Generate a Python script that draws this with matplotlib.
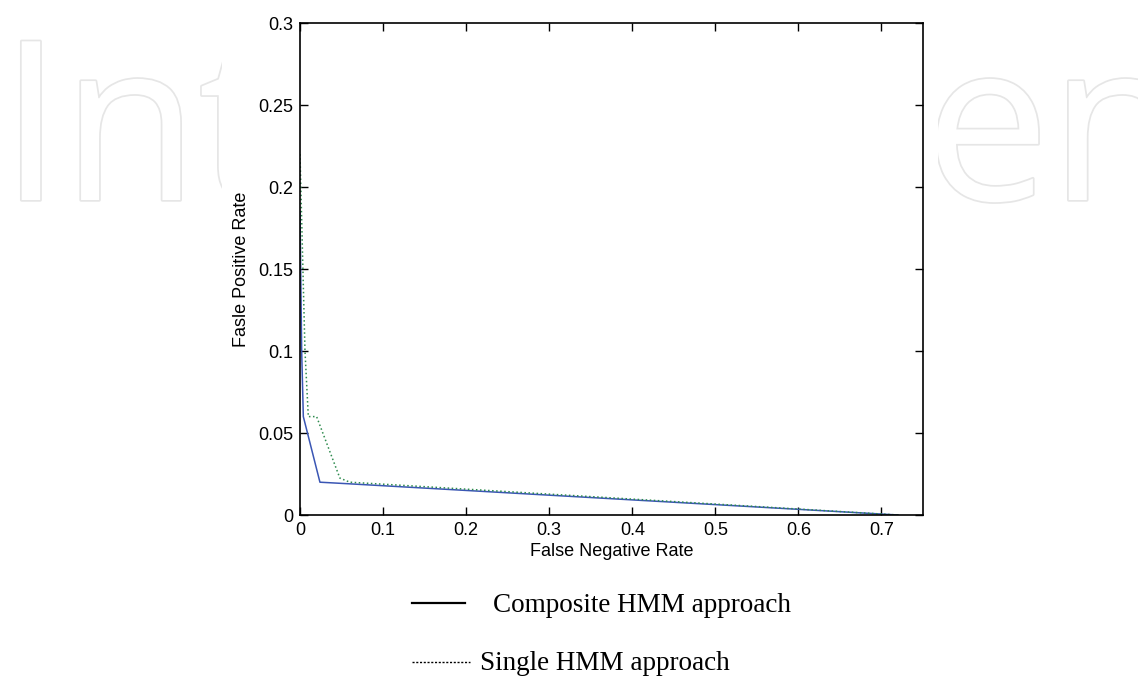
import matplotlib
matplotlib.use("Agg")
import matplotlib.pyplot as plt
import matplotlib.patheffects as pe
from matplotlib.lines import Line2D
from matplotlib.patches import Rectangle

# ROC-like curves
fnr_composite = [0.0, 0.002, 0.004, 0.024, 0.06, 0.72]
fpr_composite = [0.185, 0.10, 0.06, 0.02, 0.019, 0.0]
fnr_single = [0.0, 0.002, 0.006, 0.01, 0.02, 0.048, 0.06, 0.72]
fpr_single = [0.22, 0.18, 0.10, 0.06, 0.06, 0.0225, 0.02, 0.0]

xticks = [0, 0.1, 0.2, 0.3, 0.4, 0.5, 0.6, 0.7]
yticks = [0, 0.05, 0.1, 0.15, 0.2, 0.25, 0.3]
xtick_labels = ["0", "0.1", "0.2", "0.3", "0.4", "0.5", "0.6", "0.7"]
ytick_labels = ["0", "0.05", "0.1", "0.15", "0.2", "0.25", "0.3"]

W, H = 1138, 678
fig = plt.figure(figsize=(W / 100, H / 100), dpi=100)

# faint watermark behind the chart
wm = dict(fontsize=160, family="Open Sans", color="white", zorder=-3,
          path_effects=[pe.withStroke(linewidth=2.5, foreground="#e6e6e6")])
fig.text(0 / W, 1 - 200 / H, "Int", ha="left", va="baseline", **wm)
fig.text(925 / W, 1 - 200 / H, "en", ha="left", va="baseline", **wm)
fig.add_artist(Rectangle((222 / W, 0), (938 - 222) / W, 1,
                         transform=fig.transFigure, facecolor="white",
                         edgecolor="none", zorder=-2))

ax = fig.add_axes([300 / W, 1 - 515 / H, (923 - 300) / W, (515 - 23) / H])
ax.plot(fnr_composite, fpr_composite, "-", color="#3a56b4", lw=1.1)
ax.plot(fnr_single, fpr_single, ":", color="#2e8b4e", lw=1.1)

ax.set_xlim(0, 0.75)
ax.set_ylim(0, 0.3)
ax.set_xticks(xticks)
ax.set_xticklabels(xtick_labels)
ax.set_yticks(yticks)
ax.set_yticklabels(ytick_labels)
ax.tick_params(direction="in", top=True, right=True, length=6, width=1,
               labelsize=13, pad=5)
for lab in ax.get_xticklabels() + ax.get_yticklabels():
    lab.set_family("Liberation Sans")
for s in ax.spines.values():
    s.set_linewidth(1.2)
ax.set_xlabel("False Negative Rate", family="Liberation Sans", fontsize=13,
              labelpad=3)
ax.set_ylabel("Fasle Positive Rate", family="Liberation Sans", fontsize=13,
              labelpad=6)

# legend below the chart
fig.add_artist(Line2D([412 / W, 465 / W], [1 - 603 / H, 1 - 603 / H],
                      transform=fig.transFigure, color="black", lw=1.6))
fig.text(493 / W, 1 - 605 / H, "Composite HMM approach", family="Liberation Serif",
         fontsize=19.5, va="center", ha="left")
fig.add_artist(Line2D([412 / W, 470 / W], [1 - 662 / H, 1 - 662 / H],
                      transform=fig.transFigure, color="black", lw=1.0,
                      linestyle=(0, (1.5, 1.2))))
fig.text(480 / W, 1 - 664 / H, "Single HMM approach", family="Liberation Serif",
         fontsize=19.5, va="center", ha="left")

fig.savefig("out.png", dpi=100)
